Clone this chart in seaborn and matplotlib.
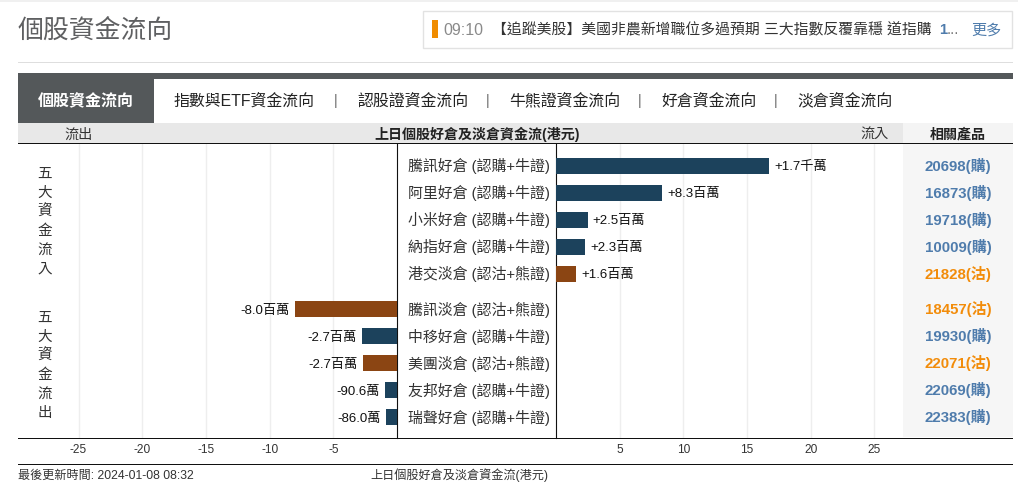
import matplotlib
matplotlib.use("Agg")
import matplotlib.pyplot as plt
from matplotlib.patches import Rectangle
from matplotlib.transforms import ScaledTranslation
import pandas as pd
import seaborn as sns

inflow_names = ["騰訊好倉 (認購+牛證)", "阿里好倉 (認購+牛證)", "小米好倉 (認購+牛證)", "納指好倉 (認購+牛證)", "港交淡倉 (認沽+熊證)"]
inflow_values = [16.75, 8.33, 2.5, 2.3, 1.6]
inflow_labels = ["+1.7千萬", "+8.3百萬", "+2.5百萬", "+2.3百萬", "+1.6百萬"]
inflow_side = ["好", "好", "好", "好", "淡"]
inflow_codes = ["20698(購)", "16873(購)", "19718(購)", "10009(購)", "21828(沽)"]

outflow_names = ["騰訊淡倉 (認沽+熊證)", "中移好倉 (認購+牛證)", "美團淡倉 (認沽+熊證)", "友邦好倉 (認購+牛證)", "瑞聲好倉 (認購+牛證)"]
outflow_values = [-8.0, -2.72, -2.67, -0.906, -0.86]
outflow_labels = ["-8.0百萬", "-2.7百萬", "-2.7百萬", "-90.6萬", "-86.0萬"]
outflow_side = ["淡", "好", "淡", "好", "好"]
outflow_codes = ["18457(沽)", "19930(購)", "22071(沽)", "22069(購)", "22383(購)"]

left_ticks = [-25, -20, -15, -10, -5]
right_ticks = [5, 10, 15, 20, 25]
tabs = ["指數與ETF資金流向", "認股證資金流向", "牛熊證資金流向", "好倉資金流向", "淡倉資金流向"]

W, H = 1018, 495
BLUE, BROWN = "#1c425c", "#8b4513"
LINK, ORANGE = "#4f7cac", "#f28c0a"
FONT = ["Liberation Sans", "Noto Sans CJK TC", "DejaVu Sans"]

sns.set_theme(style="white")
plt.rcParams["font.family"] = FONT
plt.rcParams["axes.unicode_minus"] = False

fig = plt.figure(figsize=(W / 100, H / 100), dpi=100, facecolor="white")


def px_axes(x0, x1, y0, y1):
    return fig.add_axes([x0 / W, 1 - y1 / H, (x1 - x0) / W, (y1 - y0) / H])


# page furniture, in pixel coordinates
bg = fig.add_axes([0, 0, 1, 1], zorder=-1)
bg.set_xlim(0, W)
bg.set_ylim(H, 0)
bg.axis("off")


def rect(x0, y0, x1, y1, fc, ec="none", lw=0):
    bg.add_patch(Rectangle((x0, y0), x1 - x0, y1 - y0, fc=fc, ec=ec, lw=lw))


def txt(x, y, s, size=10, color="#222222", ha="left", weight="normal"):
    # baseline alignment keeps mixed CJK / Latin strings on one line
    bg.text(x, y + 0.36 * size * 100 / 72, s, fontsize=size, color=color, ha=ha,
            va="baseline", fontweight=weight)


rect(0, 0, W, 2, "#f0f0f0")
txt(18, 29, "個股資金流向", 18.6, "#5f6062")
rect(423.5, 10.5, 1012.5, 47.5, "white", "#e2e2e2", 1)
rect(432, 20, 438, 38, "#f08c00")
txt(443, 29, "09:10", 11.5, "#8a8a8a")
txt(492, 29, "【追蹤美股】美國非農新增職位多過預期 三大指數反覆靠穩 道指購", 10.7, "#333333")
txt(939, 29, "1", 10.7, LINK, weight="bold")
txt(947, 29, "...", 10.7, "#777777")
txt(971, 29, "更多", 10.9, LINK)
rect(18, 62, 1013, 63, "#dedede")

rect(18, 73, 1013, 79, "#54585a")
rect(18, 73, 154, 123, "#54585a")
txt(86, 100, "個股資金流向", 11.5, "white", ha="center", weight="bold")
for s, x in zip(tabs, [174, 357, 509, 661, 797]):
    txt(x, 100, s, 11.45, "#222222")
for x in [336, 488, 640, 776]:
    txt(x, 100, "|", 10, "#666666", ha="center")

rect(18, 123, 903, 143, "#e8e8e8")
rect(903, 123, 1013, 143, "#f4f4f4")
rect(903, 143, 1013, 437, "#f6f6f6")
txt(79, 134, "流出", 10.2, "#333333", ha="center")
txt(875, 134, "流入", 10.2, "#333333", ha="center")
txt(477, 134, "上日個股好倉及淡倉資金流(港元)", 10.1, "#222222", ha="center", weight="bold")
txt(958, 133, "相關產品", 10.1, "#222222", ha="center", weight="bold")
rect(18, 143, 1013, 144.2, "#111111")
rect(18, 437.6, 1013, 438.8, "#111111")
rect(18, 463.6, 1013, 464.6, "#111111")
txt(18, 475, "最後更新時間: 2024-01-08 08:32", 8.7, "#333333")
txt(548, 475, "上日個股好倉及淡倉資金流(港元)", 8.75, "#333333", ha="right")

for chars, ys in [("五大資金流入", 173), ("五大資金流出", 317)]:
    for i, c in enumerate(chars):
        txt(45, ys + i * 19, c, 10.5, "#333333", ha="center")

# chart panels
ROW_PX = 27
GROUP_GAP = 0.315
PX_PER_UNIT = 12.74
TOP, BOTTOM = 144, 438
FIRST_ROW = 165.5
ZERO_L, ZERO_R, RIGHT_END, LEFT_END = 397, 556, 903, 18
ylim = ((BOTTOM - FIRST_ROW) / ROW_PX, (TOP - FIRST_ROW) / ROW_PX)

in_rows = list(range(5))
out_rows = [i + 5 + GROUP_GAP for i in range(5)]
in_df = pd.DataFrame({"row": in_rows, "value": inflow_values, "side": inflow_side})
out_df = pd.DataFrame({"row": out_rows, "value": outflow_values, "side": outflow_side})
palette = {"好": BLUE, "淡": BROWN}

axl = px_axes(LEFT_END, ZERO_L, TOP, BOTTOM)
axr = px_axes(ZERO_R, RIGHT_END, TOP, BOTTOM)
for ax, df in [(axl, out_df), (axr, in_df)]:
    sns.barplot(data=df, x="value", y="row", hue="side", palette=palette, orient="y",
                native_scale=True, dodge=False, width=16 / ROW_PX, legend=False,
                saturation=1, linewidth=0, ax=ax, zorder=3)
    ax.set_facecolor("none")
    ax.set_ylim(*ylim)
    ax.set_xlabel("")
    ax.set_ylabel("")
    ax.grid(axis="x", color="#eeeeee", lw=1, zorder=0)
    ax.set_axisbelow(True)
    ax.tick_params(axis="x", length=0, pad=4.6, labelsize=8.6, labelcolor="#333333")
    for s in ax.spines.values():
        s.set_visible(False)

axl.set_xlim(-(ZERO_L - LEFT_END) / PX_PER_UNIT, 0)
axr.set_xlim(0, (RIGHT_END - ZERO_R) / PX_PER_UNIT)
axl.set_xticks(left_ticks, [str(t) for t in left_ticks])
axr.set_xticks(right_ticks, [str(t) for t in right_ticks])
axl.set_yticks([])
axl.spines["right"].set_visible(True)
axl.spines["right"].set_color("#111111")
axl.spines["right"].set_linewidth(0.8)
axr.spines["left"].set_visible(True)
axr.spines["left"].set_color("#111111")
axr.spines["left"].set_linewidth(0.8)

# row names sit in the gap between the panels, as the right panel's y labels
axr.set_yticks(in_rows + out_rows, inflow_names + outflow_names)
axr.tick_params(axis="y", length=0, pad=4.6, labelsize=10.75, labelcolor="#333333")
nudge = ScaledTranslation(0, 1 / 100, fig.dpi_scale_trans)
for lab in axr.get_yticklabels():
    lab.set_transform(lab.get_transform() + nudge)

for rows, vals, labels, ax, off, ha in [
    (in_rows, inflow_values, inflow_labels, axr, 3.6, "left"),
    (out_rows, outflow_values, outflow_labels, axl, -3.8, "right"),
]:
    for r, v, s in zip(rows, vals, labels):
        ax.annotate(s, (v, r), xytext=(off, -3.3), textcoords="offset points", ha=ha,
                    va="baseline", fontsize=9.5, color="#111111", zorder=4)

trans = axr.get_yaxis_transform()
for r, code in zip(in_rows + out_rows, inflow_codes + outflow_codes):
    axr.annotate(code, ((925 - ZERO_R) / (RIGHT_END - ZERO_R), r), xycoords=trans,
                 xytext=(0, -3.9), textcoords="offset points", annotation_clip=False,
                 fontsize=10.8, fontweight="bold", va="baseline", ha="left",
                 color=ORANGE if "沽" in code else LINK)

fig.savefig("out.png", dpi=100, facecolor="white")
